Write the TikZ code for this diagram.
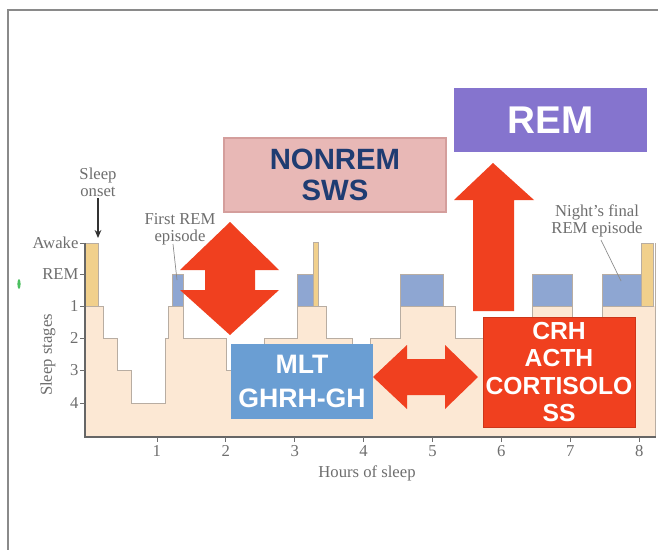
\documentclass[tikz,border=0pt]{standalone}
\usepackage{fontspec}
\usetikzlibrary{arrows.meta}
\setmainfont{Liberation Serif}
\newfontfamily\boxfont{Liberation Sans}
\definecolor{beige}{HTML}{FCE8D4}
\definecolor{outl}{HTML}{B8ADA2}
\definecolor{awk}{HTML}{F1D08C}
\definecolor{remb}{HTML}{8EA6D2}
\definecolor{redA}{HTML}{F0401F}
\definecolor{mltb}{HTML}{6A9ED3}
\definecolor{pinkb}{HTML}{E8B8B6}
\definecolor{pinkd}{HTML}{D49E9C}
\definecolor{navy}{HTML}{1F3C72}
\definecolor{purp}{HTML}{8574CE}
\definecolor{lblg}{HTML}{6E6E6E}
\definecolor{frameg}{HTML}{8A8A8A}
\definecolor{greenm}{HTML}{4CC060}
\tikzset{
  lbl/.style={text=lblg, font=\fontsize{12.5}{12.5}\selectfont, inner sep=1pt},
  hyp/.style={draw=outl, line width=0.7pt},
  remblk/.style={fill=remb, draw=outl, line width=0.6pt},
  awkblk/.style={fill=awk, draw=outl, line width=0.5pt},
  axisline/.style={draw=gray!80!black, line width=1.2pt},
  redarrow/.style={fill=redA},
  bigbox/.style={align=center, inner sep=0pt},
  leader/.style={draw=lblg!80, line width=0.5pt}
}
\begin{document}
\begin{tikzpicture}[x=0.75pt,y=-0.75pt]
\useasboundingbox (0,0) rectangle (658,550);
\fill[white] (0,0) rectangle (658,550);
\draw[frameg, line width=1pt] (8,550) -- (8,10) -- (658,10);
\fill[greenm] (19,284) ellipse (1.6 and 5);

% hypnogram fill
\fill[beige] (85,436) -- (85,306) -- (103,306) -- (103,338) -- (117,338) -- (117,370) -- (131,370) -- (131,403)
 -- (165,403) -- (165,338) -- (168,338) -- (168,306) -- (183,306) -- (183,338) -- (226,338) -- (226,370)
 -- (264,370) -- (264,338) -- (297,338) -- (297,306) -- (326,306) -- (326,338) -- (352,338) -- (352,370)
 -- (370,370) -- (370,338) -- (400,338) -- (400,306) -- (455,306) -- (455,338) -- (532,338) -- (532,306)
 -- (572,306) -- (572,338) -- (602,338) -- (602,306) -- (655,306) -- (655,436) -- cycle;
\draw[hyp] (98,306) -- (103,306) -- (103,338) -- (117,338) -- (117,370) -- (131,370) -- (131,403)
 -- (165,403) -- (165,338) -- (168,338) -- (168,306) -- (172,306);
\draw[hyp] (183,306) -- (183,338) -- (226,338) -- (226,370) -- (264,370) -- (264,338) -- (297,338) -- (297,306);
\draw[hyp] (318,306) -- (326,306) -- (326,338) -- (352,338) -- (352,370) -- (370,370) -- (370,338) -- (400,338) -- (400,306);
\draw[hyp] (443,306) -- (455,306) -- (455,338) -- (532,338) -- (532,306);
\draw[hyp] (572,306) -- (572,338) -- (602,338) -- (602,306);
\draw[hyp] (655,243) -- (655,436);
% REM blocks
\draw[remblk] (172,274) rectangle (183,306);
\draw[remblk] (297,274) rectangle (313,306);
\draw[remblk] (400,274) rectangle (443,306);
\draw[remblk] (532,274) rectangle (572,306);
\draw[remblk] (602,274) rectangle (641,306);
% awake bars
\draw[awkblk] (85,243) rectangle (98,306);
\draw[awkblk] (313,242) rectangle (318,306);
\draw[awkblk] (641,243) rectangle (653,306);

% axes
\draw[axisline] (85,243) -- (85,437) -- (656,437);
\foreach \yy/\tx/\nm in {243/Awake/ya,274/REM/yr,306/1/y1,338/2/y2,370/3/y3,403/4/y4}{
  \draw[lblg, line width=0.5pt] (80,\yy) -- (85,\yy);
  \node[lbl, anchor=east] (\nm) at (80,\yy) {\tx};
}
\foreach \h in {1,...,8}{
  \pgfmathsetmacro{\xx}{88+68.9*\h}
  \draw[lblg, line width=0.5pt] (\xx,437) -- (\xx,442);
  \node[lbl] (hx\h) at (\xx,451) {\h};
}
\node[lbl] (xlab) at (367,473) {Hours of sleep};
\node[lbl, rotate=90] (ylab) at (48,355) {Sleep stages};

% annotations
\node[lbl, align=center] (onset) at (98,182) {Sleep\\onset};
\coordinate (onsettip) at (98,238);
\draw[black!80, line width=0.8pt, -{Stealth[length=6pt,width=5pt]}] (onset.south) -- (onsettip);
\node[lbl, align=center] (firstrem) at (180,229) {First REM\\episode};
\coordinate (firsttip) at (177,280);
\draw[leader] (173,244) -- (firsttip);
\node[lbl, align=center] (finalrem) at (597,221) {Night's final\\REM episode};
\coordinate (finaltip) at (621,281);
\draw[leader] (601,240) -- (finaltip);

% boxes
\node[bigbox, fill=purp, text=white, minimum width=193*0.75pt, minimum height=64*0.75pt,
  font=\boxfont\bfseries\fontsize{29}{29}\selectfont] (rem) at (550.5,120) {REM};
\node[bigbox, fill=pinkb, draw=pinkd, line width=0.8pt, text=navy, minimum width=222*0.75pt, minimum height=74*0.75pt,
  font=\boxfont\bfseries\fontsize{22}{23}\selectfont] (nonrem) at (335,175) {NONREM\\SWS};
\node[bigbox, fill=mltb, text=white, minimum width=142*0.75pt, minimum height=75*0.75pt,
  font=\boxfont\bfseries\fontsize{20}{25.5}\selectfont] (mlt) at (302,381.5) {MLT\\GHRH-GH};
\node[bigbox, fill=redA, draw=redA!85!black, line width=0.6pt, text=white, minimum width=152*0.75pt, minimum height=110*0.75pt,
  font=\boxfont\bfseries\fontsize{18.5}{20.3}\selectfont] (crh) at (559,372) {CRH\\ACTH\\CORTISOLO\\SS};

% red block arrows
\fill[redarrow] (473,311) -- (514,311) -- (514,200) -- (534,200) -- (493,163) -- (454,200) -- (473,200) -- cycle;
\fill[redarrow] (230,222) -- (279,270) -- (255,270) -- (255,290) -- (279,290) -- (230,335)
  -- (180,290) -- (205,290) -- (205,270) -- (180,270) -- cycle;
\fill[redarrow] (373,377) -- (407,345) -- (407,359) -- (445,359) -- (445,345) -- (478,377)
  -- (445,409) -- (445,395) -- (407,395) -- (407,409) -- cycle;
\end{tikzpicture}
\end{document}
